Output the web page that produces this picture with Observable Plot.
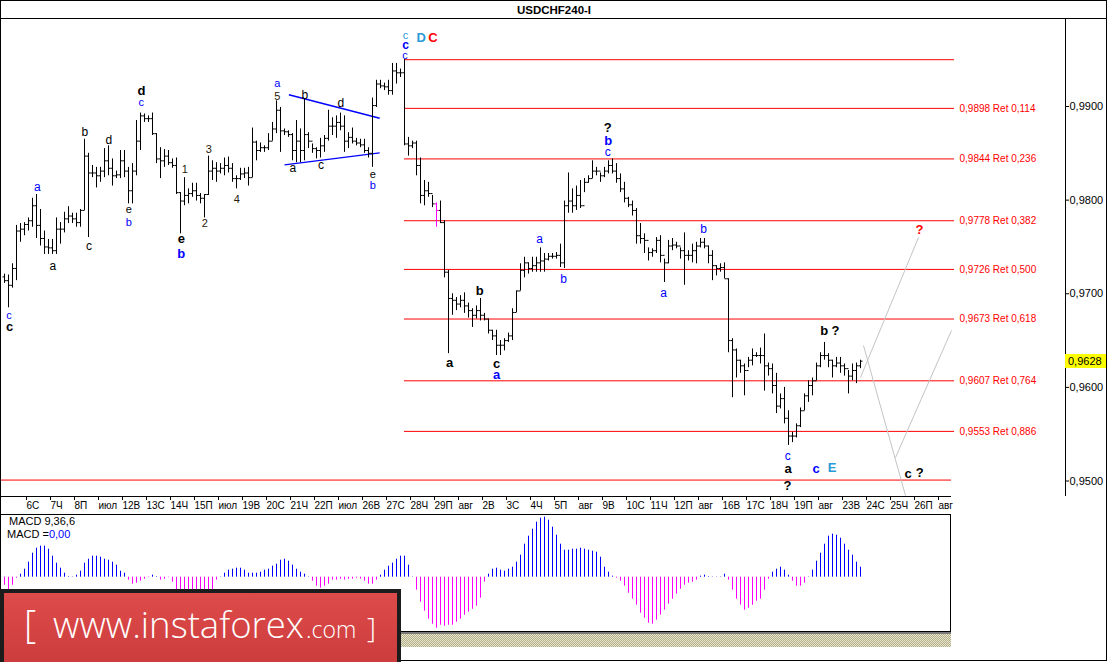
<!DOCTYPE html>
<html><head><meta charset="utf-8">
<script src="https://cdn.jsdelivr.net/npm/d3@7"></script>
<script src="https://cdn.jsdelivr.net/npm/@observablehq/plot@0.6"></script>
<style>
body{margin:0;background:#fff;}
#wrap{position:relative;width:1108px;height:662px;overflow:hidden;background:#fff;font-family:"Liberation Sans",Arial,sans-serif;}
#wrap > svg{position:absolute;left:0;top:0;}
</style></head><body>
<div id="wrap"></div>
<script>
// ---------- DATA ----------
const symbol = "USDCHF240-I";
const dayLabels = ["6С","7Ч","8П","июл","12В","13С","14Ч","15П","июл","19В","20С","21Ч","22П","июл","26В","27С","28Ч","29П","авг","2В","3С","4Ч","5П","авг","9В","10С","11Ч","12П","авг","16В","17С","18Ч","19П","авг","23В","24С","25Ч","26П","авг"];
const barsPerDay = 6;
const firstOpen = 0.9718;
const highs = [
0.9721,0.9720,0.9732,0.9773,0.9775,0.9776,0.9781,0.9802,0.9806,0.9790,
0.9767,0.9758,0.9758,0.9781,0.9776,0.9787,0.9793,0.9786,0.9786,0.9790,
0.9865,0.9850,0.9837,0.9835,0.9835,0.9855,0.9858,0.9844,0.9831,0.9853,
0.9853,0.9835,0.9839,0.9885,0.9893,0.9892,0.9890,0.9893,0.9871,0.9856,
0.9854,0.9853,0.9844,0.9845,0.9808,0.9824,0.9812,0.9818,0.9818,0.9807,
0.9806,0.9847,0.9842,0.9840,0.9839,0.9845,0.9846,0.9839,0.9826,0.9834,
0.9834,0.9835,0.9877,0.9863,0.9861,0.9858,0.9871,0.9883,0.9906,0.9899,
0.9876,0.9874,0.9871,0.9885,0.9876,0.9908,0.9872,0.9860,0.9856,0.9866,
0.9869,0.9896,0.9888,0.9890,0.9893,0.9890,0.9872,0.9877,0.9866,0.9865,
0.9865,0.9856,0.9909,0.9928,0.9928,0.9925,0.9928,0.9946,0.9946,0.9940,
0.9950,0.9867,0.9863,0.9863,0.9845,0.9821,0.9819,0.9805,0.9797,0.9799,
0.9778,0.9725,0.9700,0.9696,0.9698,0.9701,0.9690,0.9684,0.9687,0.9695,
0.9679,0.9673,0.9661,0.9661,0.9650,0.9652,0.9658,0.9684,0.9703,0.9732,
0.9739,0.9733,0.9739,0.9739,0.9749,0.9743,0.9743,0.9743,0.9744,0.9753,
0.9799,0.9829,0.9812,0.9815,0.9821,0.9823,0.9826,0.9842,0.9835,0.9829,
0.9835,0.9842,0.9844,0.9839,0.9828,0.9819,0.9803,0.9799,0.9791,0.9775,
0.9764,0.9749,0.9748,0.9760,0.9762,0.9737,0.9757,0.9759,0.9755,0.9749,
0.9765,0.9746,0.9753,0.9755,0.9759,0.9759,0.9751,0.9746,0.9730,0.9732,
0.9733,0.9716,0.9652,0.9641,0.9629,0.9625,0.9632,0.9641,0.9637,0.9642,
0.9657,0.9626,0.9625,0.9615,0.9593,0.9600,0.9575,0.9552,0.9561,0.9578,
0.9593,0.9607,0.9610,0.9626,0.9637,0.9648,0.9636,0.9629,0.9632,0.9632,
0.9625,0.9618,0.9625,0.9626,0.9629];
const lows = [
0.9711,0.9685,0.9706,0.9714,0.9755,0.9762,0.9767,0.9771,0.9759,0.9751,
0.9742,0.9742,0.9742,0.9742,0.9753,0.9765,0.9775,0.9775,0.9771,0.9771,
0.9789,0.9760,0.9824,0.9813,0.9819,0.9824,0.9826,0.9815,0.9823,0.9823,
0.9824,0.9796,0.9796,0.9826,0.9853,0.9883,0.9883,0.9869,0.9839,0.9823,
0.9835,0.9837,0.9834,0.9806,0.9764,0.9794,0.9796,0.9803,0.9799,0.9796,
0.9781,0.9805,0.9821,0.9819,0.9828,0.9826,0.9829,0.9819,0.9812,0.9821,
0.9823,0.9815,0.9824,0.9842,0.9851,0.9851,0.9853,0.9863,0.9871,0.9851,
0.9869,0.9867,0.9842,0.9840,0.9840,0.9842,0.9855,0.9850,0.9844,0.9845,
0.9851,0.9863,0.9869,0.9866,0.9874,0.9851,0.9855,0.9860,0.9858,0.9856,
0.9850,0.9845,0.9835,0.9899,0.9919,0.9917,0.9912,0.9912,0.9924,0.9931,
0.9858,0.9847,0.9855,0.9826,0.9796,0.9794,0.9803,0.9792,0.9771,0.9775,
0.9717,0.9636,0.9677,0.9682,0.9685,0.9679,0.9674,0.9664,0.9673,0.9671,
0.9671,0.9657,0.9650,0.9634,0.9634,0.9639,0.9648,0.9650,0.9680,0.9703,
0.9717,0.9721,0.9723,0.9723,0.9723,0.9723,0.9735,0.9737,0.9737,0.9728,
0.9727,0.9786,0.9786,0.9789,0.9791,0.9808,0.9818,0.9823,0.9826,0.9819,
0.9824,0.9828,0.9828,0.9818,0.9808,0.9797,0.9792,0.9783,0.9753,0.9753,
0.9743,0.9735,0.9739,0.9743,0.9733,0.9712,0.9732,0.9746,0.9748,0.9737,
0.9709,0.9735,0.9733,0.9732,0.9749,0.9748,0.9732,0.9714,0.9719,0.9723,
0.9716,0.9637,0.9589,0.9610,0.9615,0.9591,0.9621,0.9623,0.9632,0.9625,
0.9596,0.9612,0.9593,0.9572,0.9577,0.9561,0.9538,0.9541,0.9546,0.9557,
0.9575,0.9584,0.9591,0.9607,0.9621,0.9629,0.9621,0.9610,0.9621,0.9615,
0.9612,0.9593,0.9607,0.9604,0.9620];
const closes = [
0.9714,0.9709,0.9727,0.9767,0.9769,0.9774,0.9778,0.9794,0.9773,0.9759,
0.9750,0.9749,0.9746,0.9769,0.9769,0.9780,0.9783,0.9780,0.9776,0.9789,
0.9847,0.9829,0.9829,0.9826,0.9831,0.9842,0.9834,0.9826,0.9827,0.9842,
0.9831,0.9810,0.9831,0.9863,0.9890,0.9887,0.9887,0.9871,0.9844,0.9842,
0.9847,0.9840,0.9837,0.9808,0.9799,0.9805,0.9807,0.9810,0.9805,0.9802,
0.9806,0.9831,0.9834,0.9831,0.9834,0.9837,0.9834,0.9823,0.9823,0.9828,
0.9829,0.9824,0.9862,0.9853,0.9856,0.9856,0.9863,0.9876,0.9896,0.9874,
0.9873,0.9870,0.9853,0.9863,0.9853,0.9870,0.9863,0.9855,0.9853,0.9858,
0.9866,0.9879,0.9879,0.9883,0.9879,0.9863,0.9867,0.9863,0.9861,0.9859,
0.9853,0.9850,0.9901,0.9924,0.9922,0.9921,0.9917,0.9938,0.9936,0.9936,
0.9860,0.9858,0.9861,0.9837,0.9805,0.9810,0.9807,0.9796,0.9789,0.9776,
0.9723,0.9695,0.9693,0.9689,0.9693,0.9687,0.9682,0.9677,0.9682,0.9677,
0.9673,0.9661,0.9655,0.9645,0.9645,0.9650,0.9655,0.9680,0.9703,0.9725,
0.9733,0.9727,0.9730,0.9733,0.9735,0.9737,0.9740,0.9740,0.9741,0.9733,
0.9794,0.9799,0.9794,0.9805,0.9794,0.9819,0.9823,0.9831,0.9831,0.9826,
0.9831,0.9837,0.9831,0.9823,0.9812,0.9802,0.9795,0.9789,0.9762,0.9759,
0.9757,0.9744,0.9746,0.9757,0.9741,0.9733,0.9751,0.9752,0.9751,0.9746,
0.9741,0.9741,0.9746,0.9751,0.9755,0.9751,0.9741,0.9730,0.9727,0.9728,
0.9716,0.9650,0.9640,0.9629,0.9623,0.9618,0.9629,0.9634,0.9634,0.9634,
0.9623,0.9620,0.9602,0.9580,0.9588,0.9567,0.9548,0.9548,0.9559,0.9575,
0.9591,0.9602,0.9607,0.9623,0.9634,0.9634,0.9629,0.9623,0.9626,0.9623,
0.9620,0.9612,0.9618,0.9623,0.9628];
const highlightBar = 108;          // bar drawn in magenta
const currentPrice = 0.9628;
// MACD(9,36,6) histogram, in units of 0.00001
const macdHist = [
-8,-13,-8,-1,3,8,15,24,29,31,
31,28,21,14,9,4,0.5,0.3,2,6,
14,18,21,21,20,18,17,15,12,6,
4,-3,-7,-6,-4,-2,-0.5,2,0.5,-3,
-2,-0.5,-5,-13,-16,-18,-19,-19,-18,-17,
-16,-15,-13,-3,0.3,4,7,8,9,9,
7,4,4,4,5,7,8,11,13,17,
18,16,12,8,5,3,0.3,-4,-9,-11,
-9,-7,-3,-3,-2,-3,-2,-2,-1,-2,
-4,-7,-7,-3,2,7,11,14,18,21,
21,12,0.3,-13,-25,-34,-42,-47,-51,-48,
-49,-48,-48,-45,-42,-38,-35,-32,-29,-21,
-5,3,8,9,7,6,8,10,15,22,
33,41,48,55,59,60,57,50,42,33,
27,27,28,28,29,28,27,26,25,20,
10,5,1,-1,-4,-9,-16,-22,-28,-36,
-41,-46,-47,-43,-38,-33,-27,-22,-17,-12,
-8,-6,-5,-3,1,2,0.5,0.3,0.3,0.3,
3,-3,-13,-22,-28,-33,-31,-28,-24,-22,
-13,-2,5,8,10,7,2,-4,-9,-9,
-6,0.3,7,16,24,33,41,43,42,39,
33,27,22,15,10];
// Fibonacci retracement from the swing high (bar 100) to the 0.9501 line
const fibStartBar = 100, fibEndBar = 237.5, fibTextBar = 238.75;
const fibTop = 0.9950;
const fibLevels = [0.9898, 0.9844, 0.9778, 0.9726, 0.9673, 0.9607, 0.9553];
const fibRatios = ["0,114", "0,236", "0,382", "0,500", "0,618", "0,764", "0,886"];
const supportLevel = 0.9501, supportStartBar = -1, supportEndBar = 236.75;
const yTicks = [0.9900, 0.9800, 0.9700, 0.9600, 0.9500];
// Wave labels: text, bar index, price, kind
const labelText  = ["c","c","a","a","b","c","d","e","b","d","c","1","e","b","3","2","4","a","5","b","a","c","d","e","b","c","c","c","D","C","?","b","c","a","b","c","a","a","b","a","b","c","b","?","a","?","c","E","c","?","?"];
const labelBar   = [1.1,1.25,8.2,12.1,20.1,21.1,26.1,31.1,31.1,34.25,34.2,45.1,44.2,44.2,51.1,50.1,58.1,68.2,68.2,75.1,72.1,79.1,84.1,92.1,92.1,100.25,100.25,100.1,104.2,107.1,150.8,150.9,150.8,111.3,118.8,123,123,133.8,139.8,164.8,174.8,195.8,204.9,207.75,195.9,195.75,202.9,206.9,225.9,228.8,228.75];
const labelPrice = [0.9677,0.9665,0.9814,0.9730,0.9873,0.9751,0.9864,0.9790,0.9776,0.9917,0.9904,0.9833,0.9759,0.9743,0.9854,0.9775,0.9801,0.9925,0.9911,0.99125,0.9834,0.9837,0.9904,0.9827,0.9816,0.9976,0.9966,0.9955,0.9973,0.9973,0.9877,0.9863,0.9851,0.9626,0.9703,0.9625,0.9613,0.9758,0.9716,0.9701,0.9769,0.9527,0.9660,0.9660,0.9513,0.9495,0.9513,0.9514,0.9508,0.9509,0.9768];
const labelKind  = ["bs","K","b","k","k","k","k","ks","bs","K","bs","n","K","B","n","n","n","bs","n","k","k","k","k","ks","bs","cy","Bs","bs","CY","R","K","B","b","K","K","K","B","b","b","b","b","b","K","K","K","K","B","CY","K","K","R"];
// triangle boundary lines and forecast paths [bar1, price1, bar2, price2]
const triangleLines = [[71.1,0.99125,93.8,0.98875],[70,0.98377,93.8,0.98505]];
const forecastLines = [[214,0.96106,228.5,0.97601],[214.75,0.96447,225.25,0.94845],[222.75,0.95251,236.75,0.96608]];

// ---------- BUILD ----------
const W = 1108, H = 662;
const comma = v => d3.format(".4f")(v).replace(".", ",");
const nBars = highs.length;
const bars = highs.map((h, i) => ({i, high: h, low: lows[i], close: closes[i],
  open: i === 0 ? firstOpen : closes[i - 1],
  color: i === highlightBar ? "#ff00ff" : "#000000"}));
const xScale = {domain: [0, nBars - 1], range: [4, 4 + 4 * (nBars - 1)], axis: null};
const labels = labelText.map((t, k) => ({t, bar: labelBar[k], price: labelPrice[k], kind: labelKind[k]}));
const kinds = {
  b:  {fill: "#0000ff", size: 12, weight: "normal"},
  bs: {fill: "#0000ff", size: 11, weight: "normal"},
  k:  {fill: "#000000", size: 12, weight: "normal"},
  ks: {fill: "#000000", size: 11, weight: "normal"},
  B:  {fill: "#0000ff", size: 13, weight: "bold"},
  Bs: {fill: "#0000ff", size: 12, weight: "bold"},
  K:  {fill: "#000000", size: 13, weight: "bold"},
  n:  {fill: "#2a1a08", size: 11, weight: "normal"},
  cy: {fill: "#2a9ad8", size: 11, weight: "normal"},
  CY: {fill: "#2a9ad8", size: 13, weight: "bold"},
  R:  {fill: "#ff0000", size: 13, weight: "bold"}
};
const labelMarks = Object.entries(kinds).map(([k, s]) =>
  Plot.text(labels.filter(d => d.kind === k), {x: "bar", y: "price", text: "t",
    fill: s.fill, fontSize: s.size, fontWeight: s.weight, fontFamily: "Liberation Sans, Arial, sans-serif"}));
const fib = fibLevels.map((v, k) => ({v, label: `${comma(v)} Ret ${fibRatios[k]}`}));
const tickBars = dayLabels.map((_, k) => barsPerDay * (k + 1) - 1);
const tickLabel = new Map(tickBars.map((b, k) => [b, dayLabels[k]]));

const price = Plot.plot({
  width: W, height: H, marginTop: 18, marginRight: 43, marginBottom: 166, marginLeft: 0,
  style: {fontFamily: "Liberation Sans, Arial, sans-serif", fontSize: "10px", background: "transparent", overflow: "visible"},
  x: xScale,
  y: {domain: [0.95, 0.99], range: [480.5, 106], axis: null},
  color: {type: "identity"},
  marks: [
    Plot.ruleY([fibTop, ...fibLevels], {y: d => d, x1: fibStartBar, x2: fibEndBar, stroke: "#ff0000"}),
    Plot.ruleY([supportLevel], {y: d => d, x1: supportStartBar, x2: supportEndBar, stroke: "#ff0000"}),
    Plot.text(fib, {x: fibTextBar, y: "v", text: "label", textAnchor: "start", fill: "#ff0000", fontSize: 10}),
    Plot.link(forecastLines, {x1: d => d[0], y1: d => d[1], x2: d => d[2], y2: d => d[3], stroke: "#c4c4c4"}),
    Plot.link(triangleLines, {x1: d => d[0], y1: d => d[1], x2: d => d[2], y2: d => d[3], stroke: "#0000ff", strokeWidth: 1.4}),
    Plot.ruleX(bars, {x: "i", y1: "low", y2: "high", stroke: "color"}),
    Plot.link(bars, {x1: d => d.i - 0.5, x2: "i", y1: "open", y2: "open", stroke: "color"}),
    Plot.link(bars, {x1: "i", x2: d => d.i + 0.5, y1: "close", y2: "close", stroke: "color"}),
    ...labelMarks,
    Plot.axisY({anchor: "right", ticks: yTicks, tickFormat: comma, tickSize: 3, tickPadding: 1, fontSize: 11, label: null}),
    Plot.axisX({anchor: "bottom", ticks: tickBars, tickFormat: d => tickLabel.get(d), tickSize: 4, tickPadding: 1,
      textAnchor: "start", dx: 2, fontSize: 10, label: null})
  ]
});

const macd = Plot.plot({
  width: W, height: H,
  style: {background: "transparent", overflow: "visible"},
  x: xScale,
  y: {domain: [-54.3, 62.7], range: [631, 514], axis: null},
  color: {type: "identity"},
  marks: [
    Plot.ruleX(macdHist.map((v, i) => ({i, v, c: v >= 0 ? "#0000ff" : "#ff00ff"})), {x: "i", y1: 0, y2: "v", stroke: "c"})
  ]
});

const wrap = document.getElementById("wrap");
wrap.appendChild(price);
wrap.appendChild(macd);
function box(l, t, w, h, css) {
  const d = document.createElement("div");
  d.style.cssText = `position:absolute;left:${l}px;top:${t}px;width:${w}px;height:${h}px;${css || ""}`;
  wrap.appendChild(d); return d;
}
// frame pieces
box(0, 0, 1107, 661, "box-sizing:border-box;border:1px solid #000;");
box(0, 18, 1107, 1, "background:#000");
box(1065, 18, 1, 478, "background:#000");
box(0, 496, 951, 1, "background:#000");
box(0, 514, 951, 118, "box-sizing:border-box;border:1px solid #000;");
box(0, 632, 951, 2, "background:#7a7a7a");
box(0, 634, 951, 13, "background:repeating-conic-gradient(#b4b08a 0 25%, #e6e4cc 0 50%) 0 0/2px 2px;");
// title
const t = box(0, 3, 1108, 14, "text-align:center;font-weight:bold;font-size:11.5px;line-height:14px;white-space:nowrap;");
t.textContent = symbol;
// MACD captions
const m1 = box(9, 515, 120, 13, "font-size:11px;line-height:13px;white-space:nowrap;");
m1.textContent = "MACD 9,36,6";
const m2 = box(7, 528, 120, 13, "font-size:11px;line-height:13px;white-space:nowrap;");
m2.innerHTML = 'MACD =<span style="color:#0000ff">0,00</span>';
// current price marker
const yCur = price.scale("y").apply(currentPrice);
const cp = box(1065, yCur - 7, 41, 14, "background:#ffff00;font-size:11px;line-height:14px;padding-left:3px;box-sizing:border-box;");
cp.textContent = comma(currentPrice);
// banner
const ban = box(0, 589, 401, 75, "");
ban.innerHTML = `<svg width="401" height="75" xmlns="http://www.w3.org/2000/svg">
<defs><linearGradient id="bg" x1="0" y1="0" x2="0" y2="1"><stop offset="0" stop-color="#de4b4b"/><stop offset="1" stop-color="#cc3c3c"/></linearGradient></defs>
<rect x="2" y="2" width="397" height="75" fill="url(#bg)" stroke="#1c1c1c" stroke-width="4"/>
<g fill="#ffffff" font-family="Open Sans, Liberation Sans, sans-serif" font-weight="300">
<text x="24" y="49" font-size="38">[</text>
<text x="53" y="49" font-size="36.5">www.instaforex</text>
<text x="306" y="49" font-size="23">.com</text>
<text x="367" y="49" font-size="28">]</text>
</g></svg>`;
</script>
</body></html>
